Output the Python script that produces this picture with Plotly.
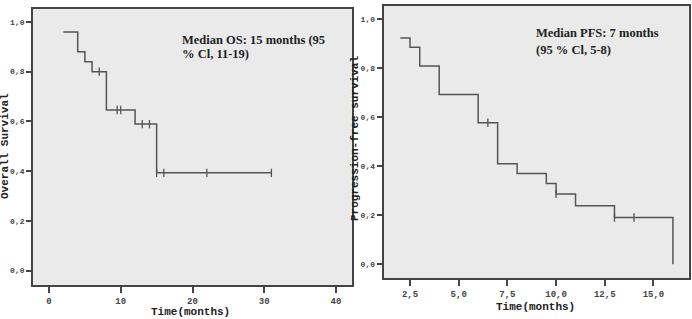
import plotly.graph_objects as go

# ---- Data ----
os_time = [2, 4, 5, 6, 8, 12, 15, 31]
os_surv = [0.96, 0.88, 0.84, 0.80, 0.646, 0.589, 0.393, 0.393]
os_censor_time = [7, 9.5, 10, 13, 14, 15, 16, 22, 31]

pfs_time = [2, 2.5, 3, 4, 6, 7, 8, 9.5, 10, 11, 13, 16]
pfs_surv = [0.923, 0.885, 0.808, 0.692, 0.577, 0.41, 0.37, 0.329, 0.287, 0.239, 0.191, 0.0]
pfs_censor_time = [6.5, 10, 13, 14]

y_tickvals = [0.0, 0.2, 0.4, 0.6, 0.8, 1.0]
y_ticktext = ["0,0", "0,2", "0,4", "0,6", "0,8", "1,0"]
os_x_tickvals = [0, 10, 20, 30, 40]
os_x_ticktext = ["0", "10", "20", "30", "40"]
pfs_x_tickvals = [2.5, 5.0, 7.5, 10.0, 12.5, 15.0]
pfs_x_ticktext = ["2,5", "5,0", "7,5", "10,0", "12,5", "15,0"]

os_note = ["Median OS: 15 months (95", "% Cl, 11-19)"]
pfs_note = ["Median PFS: 7 months", "(95 % Cl, 5-8)"]
x_title = "Time(months)"
os_y_title = "Overall Survival"
pfs_y_title = "Progression-free survival"


def step_value(times, surv, t):
    val = surv[0]
    for tt, s in zip(times, surv):
        if tt <= t:
            val = s
    return val


W, H = 692, 319
LINE = "#555555"
fig = go.Figure()

fig.add_trace(go.Scatter(x=os_time, y=os_surv, mode="lines", line=dict(shape="hv", color=LINE, width=1.5),
                         xaxis="x", yaxis="y", showlegend=False))
fig.add_trace(go.Scatter(x=os_censor_time, y=[step_value(os_time, os_surv, t) for t in os_censor_time],
                         mode="markers", marker=dict(symbol="line-ns", size=6, line=dict(color=LINE, width=1.3)),
                         xaxis="x", yaxis="y", showlegend=False))
fig.add_trace(go.Scatter(x=pfs_time, y=pfs_surv, mode="lines", line=dict(shape="hv", color=LINE, width=1.5),
                         xaxis="x2", yaxis="y2", showlegend=False))
fig.add_trace(go.Scatter(x=pfs_censor_time, y=[step_value(pfs_time, pfs_surv, t) for t in pfs_censor_time],
                         mode="markers", marker=dict(symbol="line-ns", size=6, line=dict(color=LINE, width=1.3)),
                         xaxis="x2", yaxis="y2", showlegend=False))

xtickfont = dict(family="Liberation Mono", size=9, color="#444", weight="bold")
ytickfont = dict(family="Liberation Mono", size=8, color="#444", weight="bold")
titlefont = dict(family="Liberation Mono", size=11, color="#222", weight="bold")
common = dict(showgrid=False, zeroline=False, showline=True, mirror=True, linecolor="#444", linewidth=1.8,
              tickcolor="#444", tickwidth=1.5, automargin=False)


def px(xp):
    return xp / W


def py(yp):
    return 1 - yp / H


fig.update_layout(
    width=W, height=H, margin=dict(l=0, r=0, t=0, b=0),
    paper_bgcolor="white", plot_bgcolor="#eaeaea",
    xaxis=dict(domain=[px(33), px(352)], range=[-2.23, 42.23], tickvals=os_x_tickvals, ticktext=os_x_ticktext,
               anchor="y", tickfont=xtickfont, ticks="outside", ticklen=6, **common),
    yaxis=dict(domain=[py(285), py(9)], range=[-0.058, 1.052], tickvals=y_tickvals, ticktext=y_ticktext,
               anchor="x", tickfont=ytickfont, ticks="outside", ticklen=5, **common),
    xaxis2=dict(domain=[px(383.5), px(688.5)], range=[1.14, 16.8], tickvals=pfs_x_tickvals, ticktext=pfs_x_ticktext,
                anchor="y2", tickfont=xtickfont, ticks="outside", ticklen=6, **common),
    yaxis2=dict(domain=[py(278.3), py(6)], range=[-0.057, 1.053], tickvals=y_tickvals, ticktext=y_ticktext,
                anchor="x2", tickfont=ytickfont, ticks="outside", ticklen=5, **common),
)

# axis titles
fig.add_annotation(x=px(190), y=py(312), xref="paper", yref="paper", text=x_title, showarrow=False,
                   xanchor="center", yanchor="middle", font=titlefont)
fig.add_annotation(x=px(535), y=py(307), xref="paper", yref="paper", text=x_title, showarrow=False,
                   xanchor="center", yanchor="middle", font=titlefont)
fig.add_annotation(x=px(5), y=py(146), xref="paper", yref="paper", text=os_y_title, showarrow=False,
                   textangle=-90, xanchor="center", yanchor="middle", font=titlefont)
fig.add_annotation(x=px(355), y=py(138), xref="paper", yref="paper", text=pfs_y_title, showarrow=False,
                   textangle=-90, xanchor="center", yanchor="middle", font=titlefont)

notefont = dict(family="Liberation Serif", size=12.5, color="#222", weight="bold")
for text, yc in zip(os_note, [40, 54]):
    fig.add_annotation(x=px(180), y=py(yc), xref="paper", yref="paper", text=text, showarrow=False,
                       xanchor="left", yanchor="middle", font=notefont)
for text, yc in zip(pfs_note, [33, 50]):
    fig.add_annotation(x=px(534), y=py(yc), xref="paper", yref="paper", text=text, showarrow=False,
                       xanchor="left", yanchor="middle", font=notefont)

fig.write_html("out.html", config={"displayModeBar": False},
               post_script="document.body.style.margin='0';document.body.style.padding='0';")
